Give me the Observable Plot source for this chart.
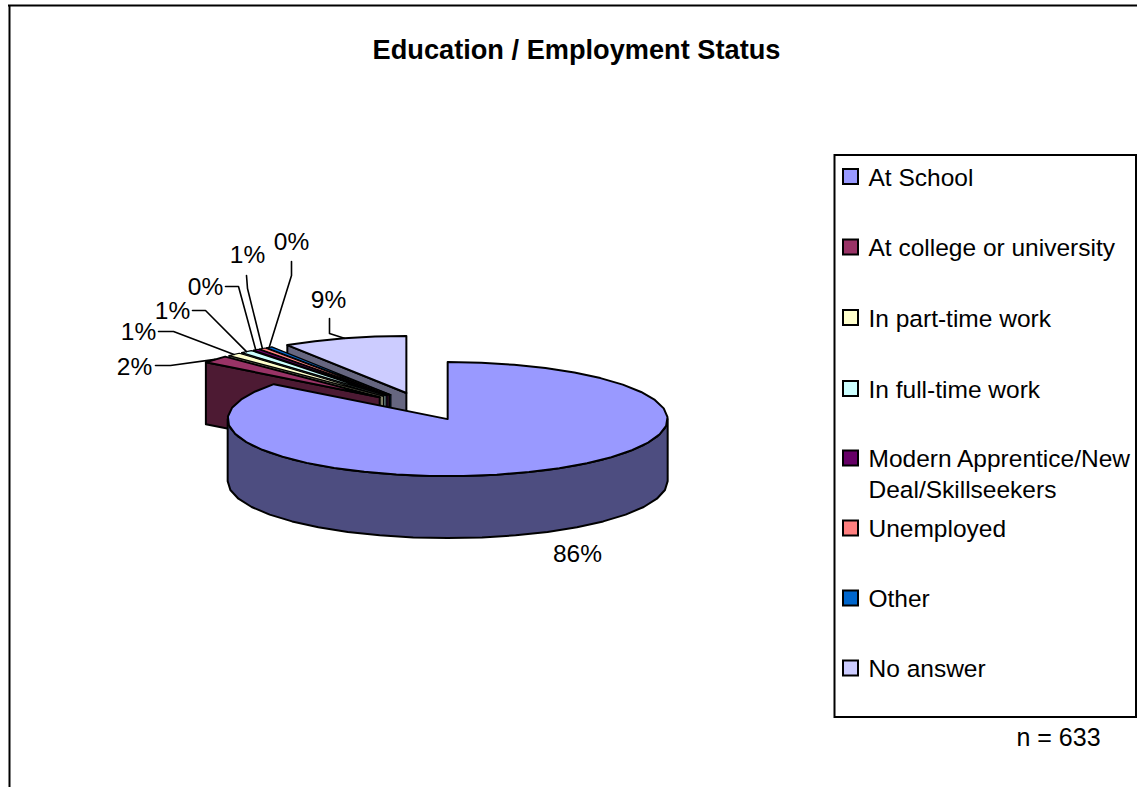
<!DOCTYPE html>
<html><head><meta charset="utf-8">
<script src="https://cdn.jsdelivr.net/npm/d3@7"></script>
<script src="https://cdn.jsdelivr.net/npm/@observablehq/plot@0.6"></script>
<style>html,body{margin:0;padding:0;background:#fff}svg{display:block}</style>
</head><body><div id="chart"></div>
<script>
const categories = ["At School","At college or university","In part-time work","In full-time work","Modern Apprentice/New Deal/Skillseekers","Unemployed","Other","No answer"];
const shares = [85.5,2.1,1.0,0.9,0.45,0.5,0.45,9.1];
const percentLabels = ["86%","2%","1%","1%","0%","1%","0%","9%"];
const colors = ["#9999ff","#993366","#ffffcc","#ccffff","#660066","#ff8080","#0066cc","#ccccff"];
const wallColors = ["#4d4d80","#4d1a33","#808066","#668080","#330033","#804040","#003366","#666680"];
const legendLines = [["At School"],["At college or university"],["In part-time work"],["In full-time work"],["Modern Apprentice/New","Deal/Skillseekers"],["Unemployed"],["Other"],["No answer"]];

// layout
const W = 1137, H = 787, FONT = "Liberation Sans";
const C = {x:422, y:406}, RX = 220, RY = 57, EXPLODE_RY = 54, DEPTH = 62, EXPLODE = 0.26;
const labelPos = [[577,554],[134,367],[138,332],[172,311],[205,287],[247,255],[291,242],[328,300]];
const elbows = [null,[[155,365],[170,365]],[[158,331],[173,331]],[[192,310],[205,310]],[[225,286],[238,286]],[[246,275],[247,288]],[[291,261],[291,275]],[[329,318],[329,333]]];
const legendRows = [176.5,247,317.5,388.5,458,528,598,668];

const total = d3.sum(shares);
let acc = 0;
const slices = shares.map((v,i)=>{
  const a0 = acc/total*2*Math.PI; acc += v; const a1 = acc/total*2*Math.PI; const m=(a0+a1)/2;
  const apex = {x:C.x+EXPLODE*RX*Math.sin(m), y:C.y-EXPLODE*EXPLODE_RY*Math.cos(m)};
  const at = a => ({x:apex.x+RX*Math.sin(a), y:apex.y-RY*Math.cos(a)});
  return {i,a0,a1,m,apex,at};
});
const arcPts = (s,a0,a1) => { const n=Math.max(1,Math.ceil((a1-a0)/(Math.PI/20))); return d3.range(n+1).map(k=>s.at(a0+(a1-a0)*k/n)); };
const poly = (pts,fill,sw=2) => Plot.line([...pts,pts[0]],{x:"x",y:"y",fill,stroke:"#000",strokeWidth:sw,strokeLinejoin:"round",curve:"linear"});
const down = p => ({x:p.x,y:p.y+DEPTH});

const marks = [];
// frame
marks.push(Plot.ruleX([9],{y1:5,y2:H,stroke:"#000",strokeWidth:2}));
marks.push(Plot.ruleY([5],{x1:8,x2:W,stroke:"#000",strokeWidth:2}));
marks.push(Plot.text(["Education / Employment Status"],{x:576,y:50,text:d=>d,fontFamily:FONT,fontWeight:"bold",fontSize:27.2,fill:"#000"}));

// back-to-front slices
for (const s of [...slices].reverse()) {
  const thin = s.i>=2 && s.i<=6;
  if (s.i===0) {
    const front = arcPts(s,Math.PI/2,3*Math.PI/2);
    marks.push(poly([...front,...front.slice().reverse().map(down)],wallColors[0]));
    marks.push(poly([s.apex,...arcPts(s,s.a0,s.a1)],colors[0]));
  } else {
    const o = s.at(s.a0);
    marks.push(poly([s.apex,o,down(o),down(s.apex)],wallColors[s.i],thin?1.2:2));
    marks.push(poly([s.apex,...arcPts(s,s.a0,s.a1)],colors[s.i],thin?1.2:2));
  }
}
// leaders
slices.forEach(s=>{ if(!elbows[s.i]) return;
  const end = s.at(s.m);
  marks.push(Plot.line([...elbows[s.i].map(([x,y])=>({x,y})),end],{x:"x",y:"y",stroke:"#000",strokeWidth:1.6,curve:"linear"}));
});
const labelData = percentLabels.map((t,i)=>({t,x:labelPos[i][0],y:labelPos[i][1]}));
marks.push(Plot.text(labelData,{x:"x",y:"y",text:"t",fontFamily:FONT,fontSize:24.5,fill:"#000"}));

// legend
marks.push(Plot.rect([0],{x1:834.5,x2:1136,y1:155,y2:717,fill:"#fff",stroke:"#000",strokeWidth:2}));
const swatches = categories.map((c,i)=>({c,y:legendRows[i]}));
marks.push(Plot.rect(swatches,{x1:843,x2:858,y1:d=>d.y-7.5,y2:d=>d.y+7.5,fill:"c",stroke:"#000",strokeWidth:2}));
const legendText = legendLines.flatMap((ls,i)=>ls.map((t,j)=>({t,y:legendRows[i]+j*30.5+1})));
marks.push(Plot.text(legendText,{x:868,y:"y",text:"t",textAnchor:"start",fontFamily:FONT,fontSize:24.5,fill:"#000"}));
marks.push(Plot.text(["n = 633"],{x:1058,y:737,text:d=>d,fontFamily:FONT,fontSize:25,fill:"#000"}));

const plot = Plot.plot({
  width:W,height:H,margin:0,
  x:{domain:[0,W],range:[0,W],axis:null},
  y:{domain:[0,H],range:[0,H],axis:null},
  color:{domain:categories,range:colors},
  style:{background:"#fff"},
  marks
});
document.getElementById("chart").appendChild(plot);
</script></body></html>
